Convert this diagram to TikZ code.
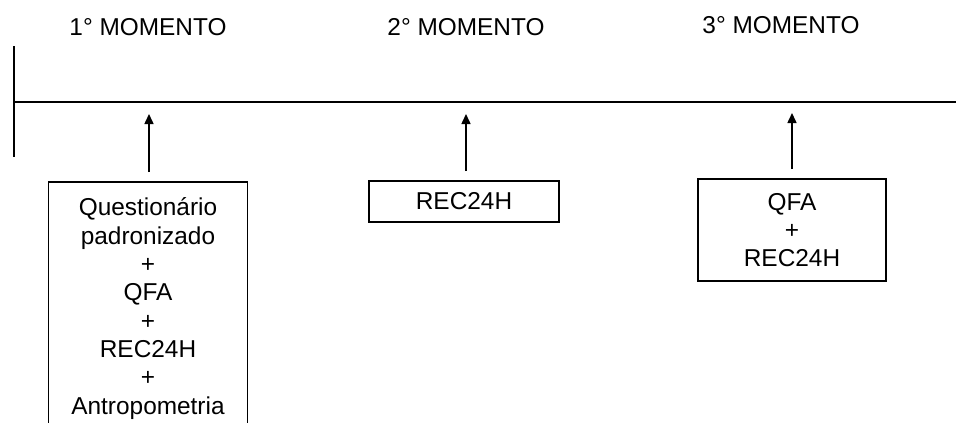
\documentclass[tikz,border=0pt]{standalone}
\usepackage{fontspec}
\setmainfont{Liberation Sans}
\usetikzlibrary{arrows.meta}
\begin{document}
\begin{tikzpicture}[x=1pt,y=-1pt,
  every node/.style={font=\fontsize{24.4}{28.3}\selectfont},
  title/.style={anchor=base},
  box/.style={draw,line width=1.9pt,align=center,inner xsep=0pt},
  axis/.style={line width=1.9pt},
  arr/.style={line width=1.5pt,-{Triangle[width=9pt,length=10pt]}}]
\clip (0,0) rectangle (956,423);
\fill[white] (0,0) rectangle (956,423);
% titles
\node[title] (m1) at (148,35) {1° MOMENTO};
\node[title] (m2) at (466,35) {2° MOMENTO};
\node[title] (m3) at (781,33) {3° MOMENTO};
% timeline
\coordinate (vt) at (14,46);
\coordinate (vb) at (14,157);
\coordinate (hl) at (14,102);
\coordinate (hr) at (956,102);
\draw[axis] (vt) -- (vb);
\draw[axis] (hl) -- (hr);
% boxes
\node[box,anchor=north,minimum width=199pt,inner ysep=16pt] (b1) at (148,181)
  {Questionário\\padronizado\\+\\QFA\\+\\REC24H\\+\\Antropometria\\ \\ };
\node[box,minimum width=190pt,minimum height=41pt] (b2) at (464,201.5) {REC24H};
\node[box,minimum width=188pt,minimum height=102pt] (b3) at (792,230) {QFA\\+\\REC24H};
% arrow targets
\coordinate (t1) at (149,114);
\coordinate (t2) at (466,114);
\coordinate (t3) at (792,113);
\draw[arr] ([xshift=1pt,yshift=9pt]b1.north) -- (t1);
\draw[arr] ([xshift=2pt,yshift=9pt]b2.north) -- (t2);
\draw[arr] ([yshift=9pt]b3.north) -- (t3);
\end{tikzpicture}
\end{document}
